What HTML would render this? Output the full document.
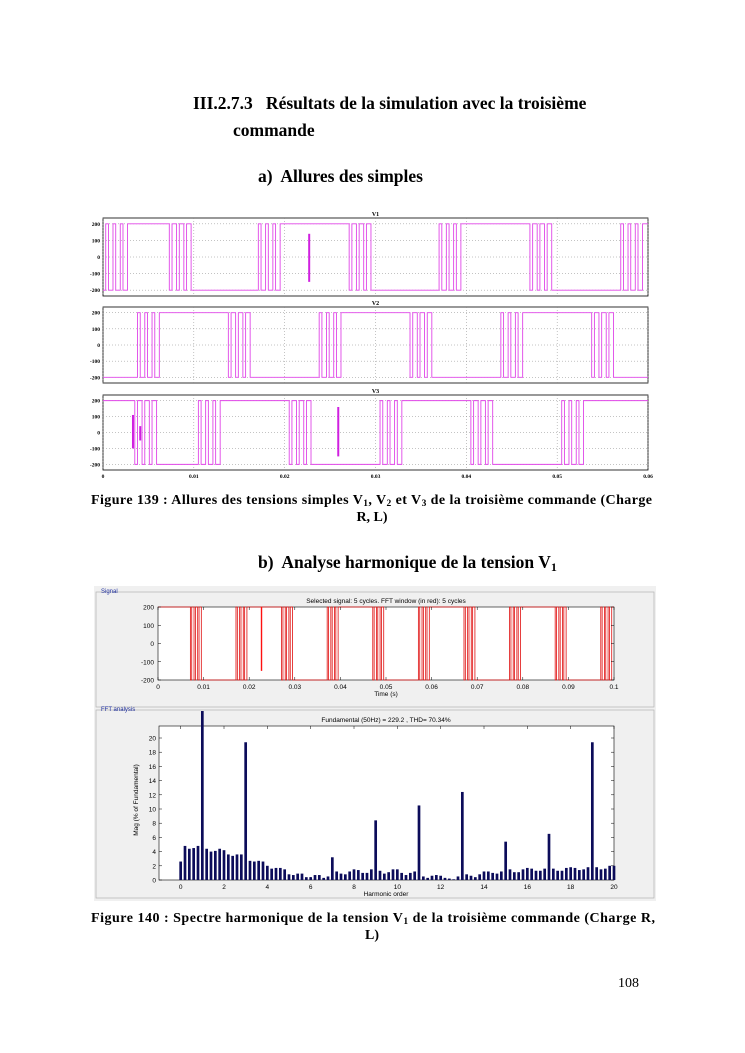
<!DOCTYPE html>
<html><head><meta charset="utf-8">
<style>
html,body{margin:0;padding:0;background:#fff;}
svg{display:block;}
.h{font-family:"Liberation Serif",serif;font-weight:bold;fill:#000;}
.s{font-family:"Liberation Sans",sans-serif;fill:#000;}
</style></head>
<body>
<svg id="page" width="745" height="1053" viewBox="0 0 745 1053" xmlns="http://www.w3.org/2000/svg">
<text class="h" x="193" y="109" font-size="17.5">III.2.7.3&#160;&#160; Résultats de la simulation avec la troisième</text>
<text class="h" x="233" y="136" font-size="17.5">commande</text>
<text class="h" x="258" y="182" font-size="17.5">a)&#160; Allures des simples</text>

<g id="top"></g>

<text class="h" x="91" y="504" font-size="14" textLength="561" lengthAdjust="spacing">Figure 139 : Allures des tensions simples V<tspan font-size="9.5" dy="2">1</tspan><tspan dy="-2">, V</tspan><tspan font-size="9.5" dy="2">2</tspan><tspan dy="-2"> et V</tspan><tspan font-size="9.5" dy="2">3</tspan><tspan dy="-2"> de la troisième commande (Charge</tspan></text>
<text class="h" x="372" y="521" font-size="14" text-anchor="middle">R, L)</text>
<text class="h" x="258" y="568" font-size="17.5">b)&#160; Analyse harmonique de la tension V<tspan font-size="12" dy="3">1</tspan></text>

<g id="fft"></g>

<text class="h" x="91" y="922" font-size="14" textLength="564" lengthAdjust="spacing">Figure 140 : Spectre harmonique de la tension V<tspan font-size="9.5" dy="2">1</tspan><tspan dy="-2"> de la troisième commande (Charge R,</tspan></text>
<text class="h" x="372" y="939" font-size="14" text-anchor="middle">L)</text>
<text x="618" y="987" font-size="14" style="font-family:'Liberation Serif',serif">108</text>
</svg>

<script>
// ---- Data: simple voltages (switching regions start times and resulting levels)
const v1Starts = [0.0003, 0.0073, 0.0171, 0.0271, 0.0370, 0.0470, 0.0570];
const v1Levels = [200, -200, 200, -200, 200, -200, 200];
const v1Init = -200;
const v2Starts = [0.0038, 0.0138, 0.0238, 0.0338, 0.0438, 0.0538];
const v2Levels = [200, -200, 200, -200, 200, -200];
const v2Init = -200;
const v3Starts = [0.0035, 0.0105, 0.0205, 0.0305, 0.0405, 0.0505];
const v3Levels = [-200, 200, -200, 200, -200, 200];
const v3Init = 200;
const pulseOffsets = [0, 0.0003, 0.0008, 0.0011, 0.0016, 0.0019, 0.0024];
const v1Spikes = [[0.0227, -150, 140]];
const v2Spikes = [];
const v3Spikes = [[0.0033, -100, 110], [0.0041, -50, 40], [0.0259, -150, 160]];
const yTicks = [200, 100, 0, -100, -200];
const tTicksTop = ["0","0.01","0.02","0.03","0.04","0.05","0.06"];
const tTickValsTop = [0,0.01,0.02,0.03,0.04,0.05,0.06];

// ---- Data: FFT signal
const sigStarts = [0, 0.0071, 0.0171, 0.0271, 0.0371, 0.0471, 0.0571, 0.0671, 0.0771, 0.0871, 0.0971];
const sigLevels = [200, -200, 200, -200, 200, -200, 200, -200, 200, -200, 200];
const sigInit = 200;
const sigSpikes = [[0.0227, -150, 200]];
const sigTickVals = [0,0.01,0.02,0.03,0.04,0.05,0.06,0.07,0.08,0.09,0.1];
const sigTickLabels = ["0","0.01","0.02","0.03","0.04","0.05","0.06","0.07","0.08","0.09","0.1"];

// ---- Data: harmonic spectrum (order step 0.2)
const harmStep = 0.2;
const harmMag = [2.6,4.8,4.4,4.5,4.8,23.8,4.4,4.0,4.1,4.4,
  4.2,3.6,3.4,3.6,3.6,19.4,2.7,2.6,2.7,2.6,
  2.0,1.6,1.7,1.7,1.5,0.8,0.7,0.9,0.9,0.4,
  0.4,0.7,0.7,0.3,0.5,3.2,1.2,0.9,0.8,1.2,
  1.5,1.4,1.0,1.0,1.5,8.4,1.3,0.9,1.1,1.5,
  1.5,1.0,0.7,1.0,1.2,10.5,0.5,0.3,0.6,0.7,
  0.6,0.3,0.2,0.1,0.5,12.4,0.8,0.6,0.4,0.8,
  1.2,1.2,1.0,0.9,1.2,5.4,1.5,1.1,1.1,1.5,
  1.7,1.6,1.3,1.3,1.6,6.5,1.6,1.3,1.3,1.7,
  1.8,1.7,1.4,1.5,1.8,19.4,1.8,1.5,1.6,2.0,2.0];
const magTicks = [0,2,4,6,8,10,12,14,16,18,20];
const harmTicks = [0,2,4,6,8,10,12,14,16,18,20];

const NS = "http://www.w3.org/2000/svg";
function mk(tag, attrs, parent){const e=document.createElementNS(NS,tag);for(const k in attrs)e.setAttribute(k,attrs[k]);parent.appendChild(e);return e;}

function wavePath(starts, levels, init, tmax, sx, sy){
  let pts=[[0,init]]; let cur=init;
  starts.forEach((s,i)=>{
    const nw=levels[i], old=cur;
    pulseOffsets.forEach((o,j)=>{
      const t=s+o; if(t>tmax) return;
      const lv=(j%2===0)?nw:old;
      pts.push([t,pts[pts.length-1][1]]); pts.push([t,lv]);
    });
    cur=nw;
  });
  pts.push([tmax,pts[pts.length-1][1]]);
  return pts.map((p,i)=>(i?'L':'M')+sx(Math.min(p[0],tmax)).toFixed(2)+' '+sy(p[1]).toFixed(2)).join(' ');
}

// ---- Top chart
(function(){
  const g=document.getElementById('top');
  const x0=103,x1=648,tmax=0.06;
  const sx=t=>x0+(t/tmax)*(x1-x0);
  const panels=[
    {name:'V1',top:218,bot:296,starts:v1Starts,levels:v1Levels,init:v1Init,spikes:v1Spikes},
    {name:'V2',top:307,bot:383,starts:v2Starts,levels:v2Levels,init:v2Init,spikes:v2Spikes},
    {name:'V3',top:395,bot:470,starts:v3Starts,levels:v3Levels,init:v3Init,spikes:v3Spikes}];
  panels.forEach((p,pi)=>{
    const pad=(p.bot-p.top)*0.075;
    const sy=v=>p.top+pad+(200-v)/400*(p.bot-p.top-2*pad);
    const pg=mk('g',{},g);
    
    
    mk('rect',{x:x0,y:p.top,width:x1-x0,height:p.bot-p.top,fill:'#fff',stroke:'#000','stroke-width':0.8},pg);
    yTicks.forEach(v=>{
      mk('line',{x1:x0,x2:x1,y1:sy(v),y2:sy(v),stroke:'#888','stroke-width':0.5,'stroke-dasharray':'1,2'},pg);
      const t=mk('text',{x:x0-3,y:sy(v)+2,'font-size':5.5,'text-anchor':'end',class:'h'},pg);t.textContent=v;
    });
    tTickValsTop.forEach(tv=>{
      mk('line',{x1:sx(tv),x2:sx(tv),y1:p.top,y2:p.bot,stroke:'#888','stroke-width':0.5,'stroke-dasharray':'1,2'},pg);
    });
    const tt=mk('text',{x:(x0+x1)/2,y:p.top-2,'font-size':6,'text-anchor':'middle',class:'h'},pg);tt.textContent=p.name;
    const path=mk('path',{d:wavePath(p.starts,p.levels,p.init,tmax,sx,sy),fill:'none',stroke:'#e046e8','stroke-width':0.9},pg);
    
    
    p.spikes.forEach(s=>{
      const l=mk('line',{x1:sx(s[0]),x2:sx(s[0]),y1:sy(s[2]),y2:sy(s[1]),stroke:'#d020e0','stroke-width':2},pg);
      
      
    });
  });
  tTickValsTop.forEach((tv,i)=>{
    const t=mk('text',{x:sx(tv),y:478,'font-size':5.5,'text-anchor':'middle',class:'h'},g);t.textContent=tTicksTop[i];
  });
})();

// ---- FFT figure
(function(){
  const g=document.getElementById('fft');
  mk('rect',{x:94,y:586,width:562,height:315,fill:'#f0f0f0'},g);
  mk('rect',{x:96,y:592,width:558,height:115,fill:'none',stroke:'#b8b8b8','stroke-width':0.8},g);
  mk('rect',{x:96,y:710,width:558,height:188,fill:'none',stroke:'#b8b8b8','stroke-width':0.8},g);
  let t=mk('text',{x:101,y:593,'font-size':6,class:'s',style:'fill:#2030a0'},g);t.textContent='Signal';
  t=mk('text',{x:101,y:711,'font-size':6,class:'s',style:'fill:#2030a0'},g);t.textContent='FFT analysis';

  const x0=158,x1=614,top=607,bot=680,tmax=0.1;
  const sx=v=>x0+v/tmax*(x1-x0);
  const sy=v=>top+(200-v)/400*(bot-top);
  const sg=mk('g',{},g);
  
  
  mk('rect',{x:x0,y:top,width:x1-x0,height:bot-top,fill:'#fff',stroke:'#000','stroke-width':0.6},sg);
  const wp=mk('path',{d:wavePath(sigStarts,sigLevels,sigInit,tmax,sx,sy),fill:'none',stroke:'#e01010','stroke-width':0.8},sg);
  
  
  sigSpikes.forEach(s=>{
    const l=mk('line',{x1:sx(s[0]),x2:sx(s[0]),y1:sy(s[2]),y2:sy(s[1]),stroke:'#ff1010','stroke-width':1.4},sg);
    
    
  });
  yTicks.forEach(v=>{
    mk('line',{x1:x0,x2:x0+3,y1:sy(v),y2:sy(v),stroke:'#000','stroke-width':0.5},sg);
    mk('line',{x1:x1-3,x2:x1,y1:sy(v),y2:sy(v),stroke:'#000','stroke-width':0.5},sg);
    const tt=mk('text',{x:x0-4,y:sy(v)+2.5,'font-size':6.5,'text-anchor':'end',class:'s'},sg);tt.textContent=v;
  });
  sigTickVals.forEach((v,i)=>{
    mk('line',{x1:sx(v),x2:sx(v),y1:top,y2:top+3,stroke:'#000','stroke-width':0.5},sg);
    mk('line',{x1:sx(v),x2:sx(v),y1:bot-3,y2:bot,stroke:'#000','stroke-width':0.5},sg);
    const tt=mk('text',{x:sx(v),y:689,'font-size':6.5,'text-anchor':'middle',class:'s'},sg);tt.textContent=sigTickLabels[i];
  });
  t=mk('text',{x:386,y:696,'font-size':6.5,'text-anchor':'middle',class:'s'},sg);t.textContent='Time (s)';
  t=mk('text',{x:386,y:603,'font-size':6.5,'text-anchor':'middle',class:'s'},sg);t.textContent='Selected signal: 5 cycles. FFT window (in red): 5 cycles';

  const hx0=159,hx1=614,htop=726,hbot=880;
  const hx=h=>hx0+(h+1)/21*(hx1-hx0);
  const hy=m=>hbot-m*7.1;
  const fg=mk('g',{},g);
  
  
  mk('rect',{x:hx0,y:htop,width:hx1-hx0,height:hbot-htop,fill:'#fff',stroke:'#000','stroke-width':0.6},fg);
  magTicks.forEach(m=>{
    mk('line',{x1:hx0,x2:hx0+3,y1:hy(m),y2:hy(m),stroke:'#000','stroke-width':0.5},fg);
    mk('line',{x1:hx1-3,x2:hx1,y1:hy(m),y2:hy(m),stroke:'#000','stroke-width':0.5},fg);
    const tt=mk('text',{x:hx0-3,y:hy(m)+2.5,'font-size':6.5,'text-anchor':'end',class:'s'},fg);tt.textContent=m;
  });
  harmTicks.forEach(h=>{
    mk('line',{x1:hx(h),x2:hx(h),y1:htop,y2:htop+3,stroke:'#000','stroke-width':0.5},fg);
    mk('line',{x1:hx(h),x2:hx(h),y1:hbot-3,y2:hbot,stroke:'#000','stroke-width':0.5},fg);
    const tt=mk('text',{x:hx(h),y:889,'font-size':6.5,'text-anchor':'middle',class:'s'},fg);tt.textContent=h;
  });
  const bw=(hx(harmStep)-hx(0))*0.62;
  harmMag.forEach((m,i)=>{
    const h=i*harmStep;
    const b=mk('rect',{x:hx(h)-bw/2,y:hy(m),width:bw,height:hbot-hy(m),fill:'#0c0c5a'},fg);
    
    
  });
  t=mk('text',{x:386,y:896,'font-size':6.5,'text-anchor':'middle',class:'s'},fg);t.textContent='Harmonic order';
  t=mk('text',{x:386,y:722,'font-size':6.5,'text-anchor':'middle',class:'s'},fg);t.textContent='Fundamental (50Hz) = 229.2 , THD= 70.34%';
  t=mk('text',{x:0,y:0,'font-size':6.5,'text-anchor':'middle',class:'s',transform:'translate(138,800) rotate(-90)'},fg);t.textContent='Mag (% of Fundamental)';
})();
</script>
</body></html>
